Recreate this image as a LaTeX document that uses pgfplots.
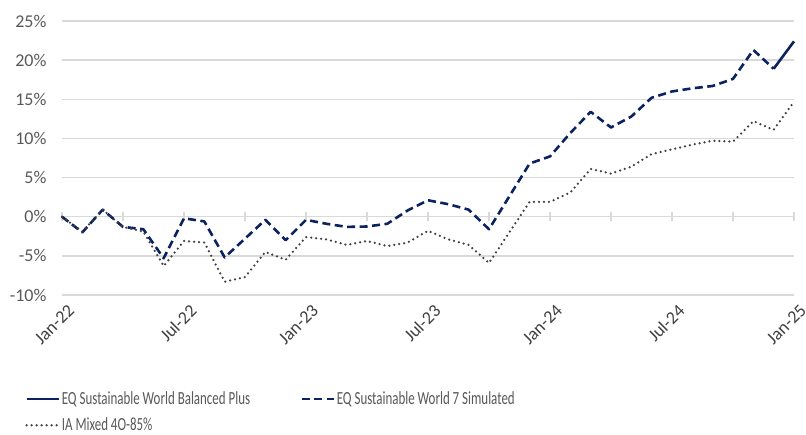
\documentclass[border=0pt]{standalone}
\usepackage{pgfplots}
\pgfplotsset{compat=1.18}
\usepackage{fontspec}
\setmainfont{Carlito}
\newfontfamily\legfont[FakeStretch=0.7]{Carlito}

\definecolor{navy}{HTML}{0A2260}
\definecolor{dotgray}{HTML}{404040}
\definecolor{txtgray}{HTML}{595959}
\definecolor{gridgray}{HTML}{D9D9D9}

\begin{document}
\begin{tikzpicture}
\begin{axis}[
    scale only axis,
    width=732pt, height=274pt,
    xmin=0, xmax=36,
    ymin=-10, ymax=25,
    xtick={0,6,...,36},
    xticklabels={Jan-22,Jul-22,Jan-23,Jul-23,Jan-24,Jul-24,Jan-25},
    ytick={-10,-5,...,25},
    yticklabel={\pgfmathprintnumber{\tick}\%},
    /pgf/number format/assume math mode=true,
    major tick length=0pt,
    axis line style={draw=none},
    ymajorgrids=true,
    grid style={gridgray, line width=1.3pt},
    tick label style={font=\fontsize{18}{18}\selectfont},
    yticklabel style={txtgray, anchor=east, xshift=-12pt},
    xticklabel style={dotgray, rotate=45, anchor=north east, yshift=-6pt, xshift=1pt},
    clip=false,
    legend columns=2,
    legend cell align=left,
    legend style={
        at={(-0.0505,-0.345)}, anchor=north west,
        draw=none, inner sep=0pt, row sep=8pt,
        font=\legfont\fontsize{18.5}{18.5}\selectfont, text=txtgray,
        nodes={inner sep=2pt},
        /tikz/every even column/.append style={column sep=48pt},
    },
    legend image code/.code={\draw[#1] (0pt,0pt) -- (32pt,0pt);},
]

\pgfplotsinvokeforeach{0,3,...,36}{
    \draw[gridgray, line width=1.2pt] (axis cs:#1,-0.55) -- (axis cs:#1,0.6);
}

\addplot[navy, line width=2.6pt, line join=round] coordinates {
    (35,18.9)(36,22.4)
};
\addlegendentry{EQ Sustainable World Balanced Plus}

\addplot[navy, line width=2.6pt, dash pattern=on 8pt off 4.5pt, line join=round] coordinates {
    (0,0)(1,-2.0)(2,0.9)(3,-1.3)(4,-1.6)(5,-5.3)(6,-0.2)(7,-0.6)(8,-5.2)
    (9,-2.8)(10,-0.4)(11,-3.0)(12,-0.4)(13,-0.9)(14,-1.3)(15,-1.25)(16,-0.9)
    (17,0.8)(18,2.1)(19,1.6)(20,0.9)(21,-1.6)(22,2.6)(23,6.8)(24,7.7)
    (25,10.7)(26,13.4)(27,11.4)(28,12.8)(29,15.2)(30,16.0)(31,16.4)(32,16.7)
    (33,17.6)(34,21.3)(35,18.9)
};
\addlegendentry{EQ Sustainable World 7 Simulated}

\addplot[dotgray, line width=2.5pt, line cap=round, dash pattern=on 0pt off 5pt] coordinates {
    (0,0)(1,-1.9)(2,0.9)(3,-1.3)(4,-1.9)(5,-6.3)(6,-3.1)(7,-3.3)(8,-8.3)
    (9,-7.7)(10,-4.5)(11,-5.5)(12,-2.6)(13,-2.9)(14,-3.6)(15,-3.1)(16,-3.75)
    (17,-3.3)(18,-1.8)(19,-2.9)(20,-3.6)(21,-5.9)(22,-2.0)(23,1.9)(24,1.9)
    (25,3.1)(26,6.1)(27,5.5)(28,6.4)(29,8.0)(30,8.6)(31,9.2)(32,9.7)
    (33,9.6)(34,12.2)(35,11.1)(36,14.7)
};
\addlegendentry{IA Mixed 4O-85\%}

\end{axis}
\pgfresetboundingbox
\path[use as bounding box] (-62pt,-139pt) rectangle (744pt,295pt);
\end{tikzpicture}
\end{document}
